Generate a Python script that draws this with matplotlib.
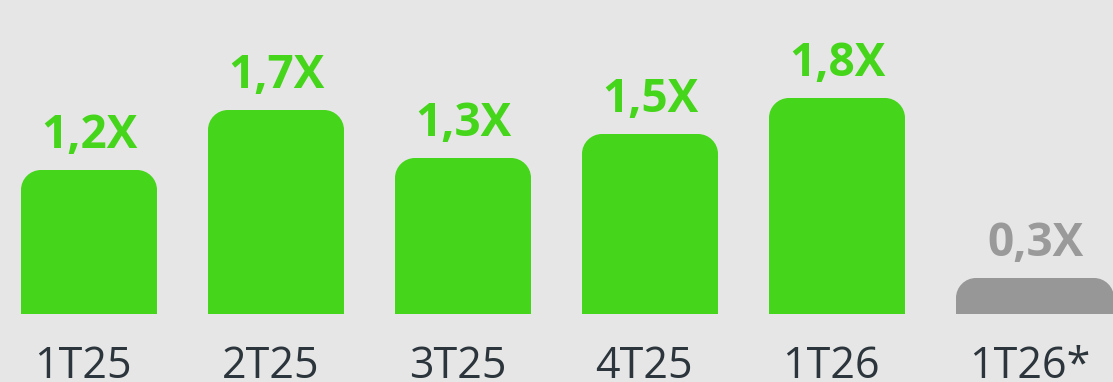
import numpy as np
import matplotlib.pyplot as plt
from matplotlib.path import Path
from matplotlib.patches import PathPatch

# Quarterly multiples
quarters = ['1T25', '2T25', '3T25', '4T25', '1T26', '1T26*']
multiples = [1.2, 1.7, 1.3, 1.5, 1.8, 0.3]
value_labels = ['1,2X', '1,7X', '1,3X', '1,5X', '1,8X', '0,3X']

GREEN = '#45d51a'
GREY_BAR = '#979797'
GREY_TEXT = '#9a9a9a'
DARK = '#2b353b'
BG = '#e6e6e6'

W_PX, H_PX = 1113, 382
PX_X = 187.0   # pixels per bar slot
PX_Y = 120.0   # pixels per unit of multiple
BASE_PX = 68.0  # baseline height from bottom
RADIUS_PX = 20.0


def rounded_top_bar(x0, width, height, rx, ry):
    """Path for a bar with rounded top corners (elliptical in data units)."""
    k = 0.5523
    x1 = x0 + width
    ry = min(ry, height)
    verts = [
        (x0, 0), (x0, height - ry),
        (x0, height - ry + k * ry), (x0 + rx - k * rx, height), (x0 + rx, height),
        (x1 - rx, height),
        (x1 - rx + k * rx, height), (x1, height - ry + k * ry), (x1, height - ry),
        (x1, 0), (x0, 0),
    ]
    codes = [Path.MOVETO, Path.LINETO,
             Path.CURVE4, Path.CURVE4, Path.CURVE4,
             Path.LINETO,
             Path.CURVE4, Path.CURVE4, Path.CURVE4,
             Path.LINETO, Path.CLOSEPOLY]
    return Path(verts, codes)


fig = plt.figure(figsize=(W_PX / 100, H_PX / 100), dpi=100)
fig.patch.set_facecolor(BG)
ax = fig.add_axes([0, 0, 1, 1])
ax.set_facecolor(BG)
ax.set_xlim(-89 / PX_X, (W_PX - 89) / PX_X)
ax.set_ylim(-BASE_PX / PX_Y, (H_PX - BASE_PX) / PX_Y)
ax.axis('off')

x = np.arange(len(quarters))
bar_w = 136 / PX_X
rx = RADIUS_PX / PX_X
ry = RADIUS_PX / PX_Y

for i, (q, v, lab) in enumerate(zip(quarters, multiples, value_labels)):
    last = i == len(quarters) - 1
    w = 158 / PX_X if last else bar_w
    left = x[i] - bar_w / 2
    center = left + w / 2
    color = GREY_BAR if last else GREEN
    ax.add_patch(PathPatch(rounded_top_bar(left, w, v, rx, ry),
                           facecolor=color, edgecolor='none'))
    ax.annotate(lab, (center, v), xytext=(0, 16), textcoords='offset points',
                ha='center', va='baseline', fontsize=33, fontweight='bold',
                family='Open Sans', color=GREY_TEXT if last else GREEN)
    ax.annotate(q, (center - 0.03, 0), xytext=(0, -46), textcoords='offset points',
                ha='center', va='baseline', fontsize=31,
                family='Open Sans', color=DARK)

fig.savefig('out.png', dpi=100, facecolor=BG)
